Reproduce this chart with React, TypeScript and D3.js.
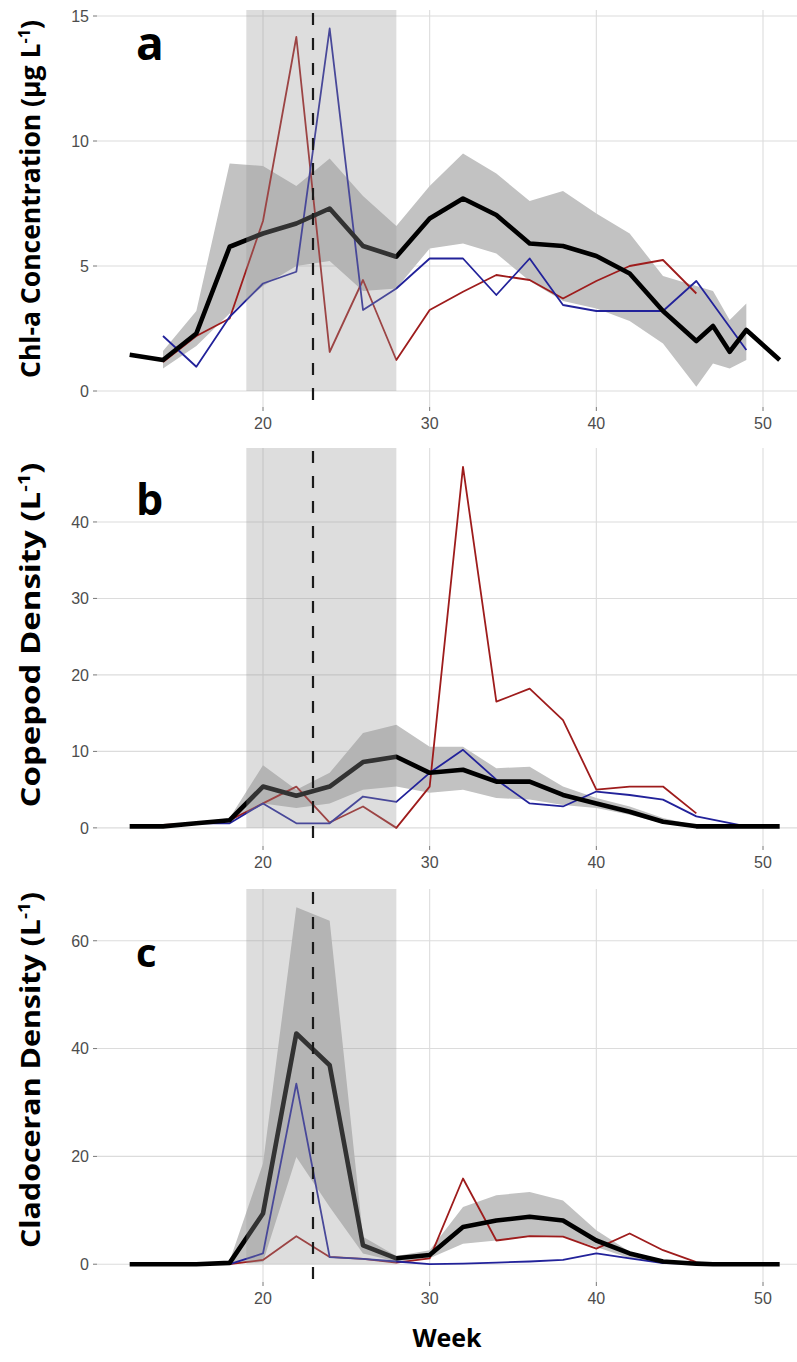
import React from "react";
import * as d3 from "d3";

// ---------- data ----------
const meanWeeks = [12, 14, 16, 18, 20, 22, 24, 26, 28, 30, 32, 34, 36, 38, 40, 42, 44, 46, 47, 48, 49, 51];
const bandWeeks = [14, 16, 18, 20, 22, 24, 26, 28, 30, 32, 34, 36, 38, 40, 42, 44, 46, 47, 48, 49];
const redWeeks = [14, 16, 18, 20, 22, 24, 26, 28, 30, 32, 34, 36, 38, 40, 42, 44, 46];
const blueWeeks = [14, 16, 18, 20, 22, 24, 26, 28, 30, 32, 34, 36, 38, 40, 42, 44, 46, 49];

// Chl-a
const chlMean = [1.45, 1.24, 2.3, 5.77, 6.3, 6.7, 7.3, 5.8, 5.37, 6.9, 7.7, 7.04, 5.9, 5.8, 5.4, 4.7, 3.2, 2.0, 2.6, 1.57, 2.44, 1.24];
const chlLow = [0.9, 1.8, 3.1, 4.2, 5.0, 5.2, 4.0, 4.1, 5.7, 5.9, 5.5, 4.4, 3.6, 3.3, 2.8, 1.9, 0.17, 1.1, 0.9, 1.24];
const chlHigh = [1.6, 3.2, 9.1, 9.0, 8.2, 9.3, 7.8, 6.6, 8.2, 9.5, 8.7, 7.6, 8.0, 7.1, 6.3, 4.6, 4.2, 4.0, 2.84, 3.5];
const chlRed = [1.16, 2.2, 2.9, 6.8, 14.16, 1.56, 4.44, 1.24, 3.24, 3.97, 4.64, 4.44, 3.7, 4.4, 5.0, 5.24, 3.9];
const chlBlue = [2.2, 0.97, 2.97, 4.3, 4.77, 14.5, 3.24, 4.1, 5.3, 5.3, 3.84, 5.3, 3.44, 3.2, 3.2, 3.2, 4.4, 1.64];

// Copepod
const copMean = [0.2, 0.2, 0.6, 1.0, 5.4, 4.2, 5.4, 8.6, 9.3, 7.2, 7.6, 6.05, 6.05, 4.3, 3.2, 2.1, 0.8, 0.2, 0.2, 0.2, 0.2, 0.2];
const copLow = [0.2, 0.5, 0.8, 3.2, 2.6, 3.2, 5.0, 5.4, 4.6, 5.0, 3.9, 3.7, 3.0, 2.6, 1.7, 0.6, 0.1, 0, 0, 0];
const copHigh = [0.3, 0.7, 1.3, 8.2, 5.0, 7.2, 12.4, 13.5, 10.6, 10.6, 7.8, 8.0, 5.4, 3.9, 2.8, 1.3, 0.3, 0.2, 0.2, 0.2];
const copRed = [0.4, 0.6, 1.0, 3.2, 5.4, 0.7, 2.8, 0.0, 5.4, 47.2, 16.5, 18.2, 14.1, 5.0, 5.4, 5.4, 1.9];
const copBlue = [0.3, 0.6, 0.6, 3.2, 0.6, 0.6, 4.1, 3.4, 7.2, 10.2, 6.3, 3.2, 2.8, 4.75, 4.3, 3.7, 1.5, 0.2];

// Cladoceran
const cladMean = [0, 0, 0, 0.25, 9.4, 42.8, 36.9, 3.5, 1.1, 1.7, 6.9, 8.1, 8.8, 8.1, 4.4, 2.0, 0.5, 0.1, 0, 0, 0, 0];
const cladLow = [0, 0, 0, 0.4, 19.9, 10.6, 2.0, 0.5, 1.1, 3.8, 4.4, 5.1, 5.1, 3.2, 1.1, 0.2, 0, 0, 0, 0];
const cladHigh = [0, 0, 0.6, 18.7, 66.2, 63.7, 5.1, 1.5, 2.6, 10.6, 12.8, 13.4, 11.8, 6.3, 2.3, 0.8, 0.2, 0.1, 0, 0];
const cladRed = [0, 0, 0, 0.8, 5.2, 1.35, 1.0, 0.3, 1.1, 15.9, 4.4, 5.2, 5.1, 2.9, 5.7, 2.6, 0.4];
const cladBlue = [0, 0, 0, 2.0, 33.5, 1.3, 1.0, 0.5, 0, 0.1, 0.3, 0.5, 0.8, 2.0, 1.1, 0.2, 0.1, 0];

const xTicks = [20, 30, 40, 50];
const shadeWeeks = [19, 28];
const eventWeek = 23;

const panelLetters = ["a", "b", "c"];
const yTitles = ["Chl-a Concentration (\u03bcg L", "Copepod Density (L", "Cladoceran Density (L"];
const yTickSets = [[0, 5, 10, 15], [0, 10, 20, 30, 40], [0, 20, 40, 60]];

// ---------- layout ----------
const W = 797;
const H = 1362;
const LEFT = 97;
const RIGHT = 797;
const RED = "#9E1C1C";
const BLUE = "#22229A";

const panels = [
  { top: 10, bottom: 407, domain: [-0.64, 15.24], mean: chlMean, low: chlLow, high: chlHigh, red: chlRed, blue: chlBlue, titleY: 199, titleLen: 358, letterSize: 46, letterY: 60 },
  { top: 448, bottom: 846, domain: [-2.37, 49.67], mean: copMean, low: copLow, high: copHigh, red: copRed, blue: copBlue, titleY: 635, titleLen: 345, letterSize: 43, letterY: 515 },
  { top: 889, bottom: 1282, domain: [-3.3, 69.6], mean: cladMean, low: cladLow, high: cladHigh, red: cladRed, blue: cladBlue, titleY: 1070, titleLen: 356, letterSize: 40, letterY: 967 },
];

const x = d3.scaleLinear().domain([20, 50]).range([263, 763]);

function Panel({ p, i }: { p: any; i: number }) {
  const y = d3.scaleLinear().domain(p.domain).range([p.bottom, p.top]);
  const line = d3
    .line<[number, number]>()
    .x((d) => x(d[0]))
    .y((d) => y(d[1]));
  const area = d3
    .area<number>()
    .x((_, k) => x(bandWeeks[k]))
    .y0((_, k) => y(p.low[k]))
    .y1((_, k) => y(p.high[k]));
  const zip = (ws: number[], vs: number[]) => ws.map((w, k) => [w, vs[k]] as [number, number]);
  const clipId = `clip${i}`;
  const gridColor = "#DCDCDC";
  return (
    <g>
      <defs>
        <clipPath id={clipId}>
          <rect x={LEFT} y={p.top} width={RIGHT - LEFT} height={p.bottom - p.top} />
        </clipPath>
      </defs>
      {yTickSets[i].map((t) => (
        <line key={"gy" + t} x1={LEFT} x2={RIGHT} y1={y(t)} y2={y(t)} stroke={gridColor} strokeWidth={1.1} />
      ))}
      {xTicks.map((t) => (
        <line key={"gx" + t} x1={x(t)} x2={x(t)} y1={p.top} y2={p.bottom} stroke={gridColor} strokeWidth={1.1} />
      ))}
      <g clipPath={`url(#${clipId})`}>
        <path d={area(p.low) || ""} fill="#C2C2C2" />
        <path d={line(zip(redWeeks, p.red)) || ""} fill="none" stroke={RED} strokeWidth={1.8} strokeLinejoin="round" />
        <path d={line(zip(blueWeeks, p.blue)) || ""} fill="none" stroke={BLUE} strokeWidth={1.8} strokeLinejoin="round" />
        <path d={line(zip(meanWeeks, p.mean)) || ""} fill="none" stroke="#000" strokeWidth={4.6} strokeLinejoin="round" />
        <rect
          x={x(shadeWeeks[0])}
          y={p.top}
          width={x(shadeWeeks[1]) - x(shadeWeeks[0])}
          height={y(0) - p.top}
          fill="#999999"
          fillOpacity={0.33}
        />
      </g>
      <line x1={x(eventWeek)} x2={x(eventWeek)} y1={p.top + 3} y2={p.bottom + 3} stroke="#1a1a1a" strokeWidth={2.2} strokeDasharray="12 13" />
      {yTickSets[i].map((t) => (
        <g key={"yt" + t}>
          <line x1={LEFT - 4} x2={LEFT} y1={y(t)} y2={y(t)} stroke="#777" strokeWidth={1} />
          <text x={LEFT - 8} y={y(t)} dy="0.36em" textAnchor="end" fontFamily="'Liberation Sans', Arial, sans-serif" fontSize={16} fill="#4D4D4D">
            {t}
          </text>
        </g>
      ))}
      {xTicks.map((t) => (
        <g key={"xt" + t}>
          <line x1={x(t)} x2={x(t)} y1={p.bottom} y2={p.bottom + 4} stroke="#777" strokeWidth={1} />
          <text x={x(t)} y={p.bottom + 22} textAnchor="middle" fontFamily="'Liberation Sans', Arial, sans-serif" fontSize={16} fill="#4D4D4D">
            {t}
          </text>
        </g>
      ))}
      <text x={136} y={p.letterY} fontFamily="'Open Sans', sans-serif" fontWeight={700} fontSize={p.letterSize} fill="#000">
        {panelLetters[i]}
      </text>
      <g transform={`translate(31, ${p.titleY}) rotate(-90)`}>
        <text
          x={0}
          y={0}
          dy="0.35em"
          textAnchor="middle"
          fontFamily="'Open Sans', sans-serif"
          fontWeight={700}
          fontSize={26}
          fill="#000"
          textLength={p.titleLen}
          lengthAdjust="spacingAndGlyphs"
        >
          {yTitles[i]}
          <tspan fontSize={16} dy={-10}>-1</tspan>
          <tspan dy={10}>)</tspan>
        </text>
      </g>
    </g>
  );
}

export default function App() {
  return (
    <svg width={W} height={H} style={{ position: "absolute", left: 0, top: 0, background: "#fff" }}>
      <rect x={0} y={0} width={W} height={H} fill="#fff" />
      {panels.map((p, i) => (
        <Panel key={i} p={p} i={i} />
      ))}
      <text x={447} y={1347} textAnchor="middle" fontFamily="'Open Sans', sans-serif" fontWeight={700} fontSize={25} fill="#000">
        Week
      </text>
    </svg>
  );
}
